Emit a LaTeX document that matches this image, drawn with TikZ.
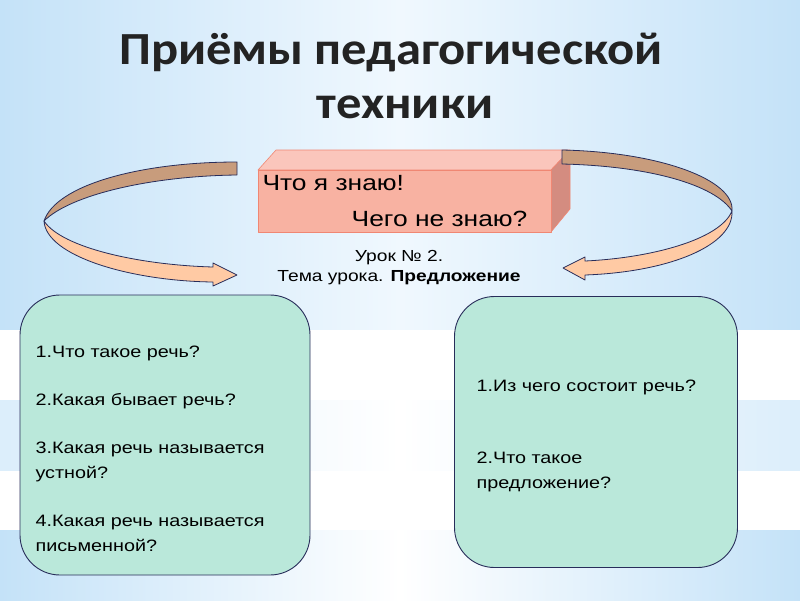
\documentclass[tikz,border=0pt]{standalone}
\usepackage{fontspec}
\setmainfont{Liberation Sans}[FakeStretch=1.2]
\newfontfamily\titlefont{Carlito}[FakeStretch=1.1]
\usetikzlibrary{positioning}
\definecolor{cBg}{RGB}{196,226,248}
\definecolor{cBgMid}{RGB}{240,248,254}
\definecolor{cFront}{RGB}{248,178,162}
\definecolor{cTop}{RGB}{250,198,188}
\definecolor{cSide}{RGB}{212,140,128}
\definecolor{cEdgeBox}{RGB}{240,135,115}
\definecolor{cTan}{RGB}{200,156,124}
\definecolor{cPeach}{RGB}{255,202,164}
\definecolor{cLine}{RGB}{40,45,90}
\definecolor{cMint}{RGB}{186,232,218}
\definecolor{cTitle}{RGB}{35,35,35}

\begin{document}
\begin{tikzpicture}[x=1pt, y=-1pt,
      q/.style={draw=cLine, fill=cMint, rounded corners=40pt, line width=0.9pt},
      qt/.style={anchor=north west, align=left, font=\fontsize{16.5}{25}\selectfont},
      band/.style={draw=cLine, line width=0.8pt, line join=round},
      face/.style={draw=cEdgeBox, line width=0.6pt, line join=round}]
    % background
    \useasboundingbox (0,0) rectangle (800,600);
    \shade[left color=cBg, right color=cBg, middle color=cBgMid] (0,0) rectangle (800,330);
    \fill[white] (0,330) rectangle (800,530);
    \shade[left color=cBg!60, right color=cBg!60, middle color=white] (0,400) rectangle (800,470);
    \shade[left color=cBg, right color=cBg, middle color=white] (0,530) rectangle (800,600);

    \node[font=\titlefont\fontsize{46}{54}\selectfont\bfseries, text=cTitle, align=center] (title)
      at (391,76) {Приёмы педагогической\\\hspace*{28pt}техники};

    % box
    \fill[cTop, face] (258,170) -- (276,150) -- (570,150) -- (551,170) -- cycle;
    \fill[cSide, face] (551,170) -- (570,150) -- (570,209) -- (551,232) -- cycle;
    \fill[cFront, face] (258,170) rectangle (551,232);
    \node[anchor=west, font=\fontsize{22}{25}\selectfont] (know) at (259,183) {Что я знаю!};
    \node[anchor=east, font=\fontsize{22}{25}\selectfont] (dontknow) at (531,219) {Чего не знаю?};

    \node[font=\fontsize{16}{20}\selectfont, align=center] (lesson) at (399,268)
      {Урок № 2.\\Тема урока. \textbf{Предложение}};

    % arrows
    \fill[cTan, band] (237,162) .. controls (140,162) and (56,185) .. (44,221)
      .. controls (70,195) and (150,176) .. (237,175) -- cycle;
    \fill[cPeach, band] (44,221) .. controls (62,248) and (140,265) .. (213,267)
      -- (213,263) -- (237,275) -- (213,286) -- (213,282)
      .. controls (130,281) and (46,256) .. (44,221) -- cycle;
    \fill[cTan, band] (562,150) .. controls (660,152) and (735,180) .. (732,211)
      .. controls (715,185) and (650,166) .. (562,164) -- cycle;
    \fill[cPeach, band] (732,211) .. controls (720,240) and (650,258) .. (585,261)
      -- (585,257) -- (563,268) -- (585,280) -- (585,275)
      .. controls (670,272) and (734,245) .. (732,211) -- cycle;

    % questions
    \node[q, minimum width=290pt, minimum height=280pt] (left) at (165,435) {};
    \node[q, minimum width=283pt, minimum height=271pt] (right) at (596,432) {};
    \node[qt] (leftq) at (32,342) {1.Что такое речь?\\[23pt]2.Какая бывает речь?\\[23pt]3.Какая речь называется\\устной?\\[23pt]4.Какая речь называется\\письменной?};
    \node[qt] (rightq) at (473,376) {1.Из чего состоит речь?\\[47pt]2.Что такое\\предложение?};
  \end{tikzpicture}
\end{document}
